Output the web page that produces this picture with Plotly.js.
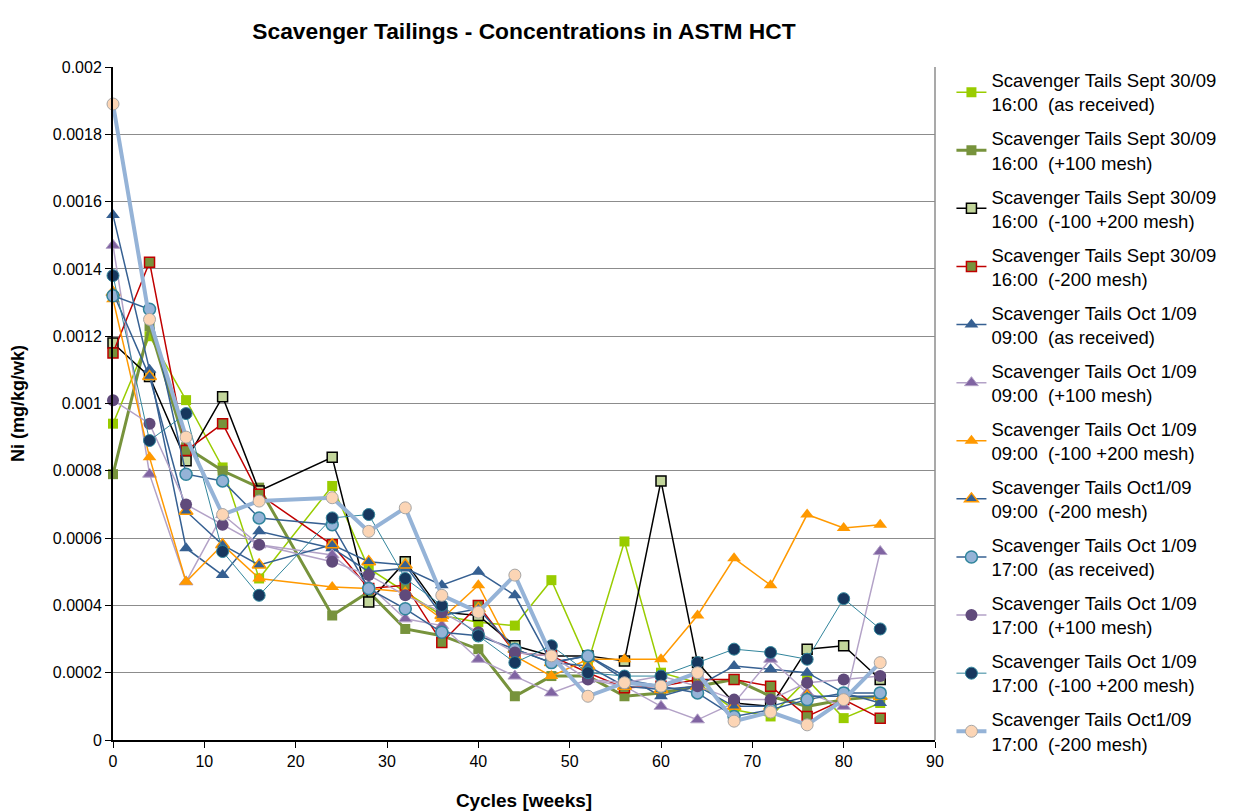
<!DOCTYPE html>
<html>
<head>
<meta charset="utf-8">
<script src="https://cdn.plot.ly/plotly-3.0.1.min.js"></script>
<style>html,body{margin:0;padding:0;background:#fff;}#chart{width:1238px;height:811px;}</style>
</head>
<body>
<div id="chart"></div>
<script>
// Cycles (weeks)
const cycles = [0, 4, 8, 12, 16, 24, 28, 32, 36, 40, 44, 48, 52, 56, 60, 64, 68, 72, 76, 80, 84];

// Series names
const names = [
  "Scavenger Tails Sept 30/09<br>16:00\u00a0 (as received)",
  "Scavenger Tails Sept 30/09<br>16:00\u00a0 (+100 mesh)",
  "Scavenger Tails Sept 30/09<br>16:00\u00a0 (-100 +200 mesh)",
  "Scavenger Tails Sept 30/09<br>16:00\u00a0 (-200 mesh)",
  "Scavenger Tails Oct 1/09<br>09:00\u00a0 (as received)",
  "Scavenger Tails Oct 1/09<br>09:00\u00a0 (+100 mesh)",
  "Scavenger Tails Oct 1/09<br>09:00\u00a0 (-100 +200 mesh)",
  "Scavenger Tails Oct1/09<br>09:00\u00a0 (-200 mesh)",
  "Scavenger Tails Oct 1/09<br>17:00\u00a0 (as received)",
  "Scavenger Tails Oct 1/09<br>17:00\u00a0 (+100 mesh)",
  "Scavenger Tails Oct 1/09<br>17:00\u00a0 (-100 +200 mesh)",
  "Scavenger Tails Oct1/09<br>17:00\u00a0 (-200 mesh)"
];

// Ni (mg/kg/wk) values per series
const sept30_asReceived = [0.00094, 0.00120, 0.00101, 0.00081, 0.00048, 0.000755, 0.00051, 0.00044, 0.00037, 0.00035, 0.00034, 0.000475, 0.00023, 0.00059, 0.00020, 0.00017, 0.00009, 0.00007, 0.00018, 0.000065, 0.00011];
const sept30_plus100 = [0.00079, 0.00123, 0.00087, 0.00080, 0.00075, 0.00037, 0.00044, 0.00033, 0.00031, 0.00027, 0.00013, 0.00019, 0.00019, 0.00013, 0.00014, 0.00016, 0.00018, 0.00013, 0.00010, 0.00012, 0.00013];
const sept30_m100p200 = [0.00118, 0.00108, 0.00083, 0.00102, 0.00074, 0.00084, 0.00041, 0.00053, 0.00038, 0.00037, 0.00028, 0.00025, 0.00025, 0.000235, 0.00077, 0.00023, 0.00011, 0.00010, 0.00027, 0.00028, 0.00018];
const sept30_minus200 = [0.00115, 0.00142, 0.00086, 0.00094, 0.00073, 0.00058, 0.00045, 0.00046, 0.00029, 0.00040, 0.00026, 0.00025, 0.00020, 0.000155, 0.00016, 0.00018, 0.00018, 0.00016, 0.00007, 0.00012, 0.000065];
const oct1am_asReceived = [0.00156, 0.00110, 0.00057, 0.00049, 0.00062, 0.00057, 0.00050, 0.00051, 0.00046, 0.00050, 0.00043, 0.00023, 0.00025, 0.00019, 0.00013, 0.00016, 0.00022, 0.00021, 0.00020, 0.00014, 0.00011];
const oct1am_plus100 = [0.00147, 0.00079, 0.00047, 0.00067, 0.00058, 0.00055, 0.00046, 0.00036, 0.00034, 0.00024, 0.00019, 0.00014, 0.00018, 0.00016, 0.00010, 0.00006, 0.00011, 0.00024, 0.00014, 0.00010, 0.00056];
const oct1am_m100p200 = [0.00131, 0.00084, 0.00047, 0.00058, 0.00048, 0.000455, 0.00045, 0.00044, 0.00036, 0.00046, 0.00025, 0.00019, 0.00024, 0.00024, 0.00024, 0.00037, 0.00054, 0.00046, 0.00067, 0.00063, 0.00064];
const oct1am_minus200 = [0.00133, 0.00108, 0.00068, 0.00058, 0.00052, 0.00058, 0.00053, 0.00052, 0.00037, 0.00039, 0.00027, 0.00023, 0.00022, 0.00016, 0.00015, 0.00016, 0.00010, 0.00010, 0.00013, 0.00013, 0.00013];
const oct1pm_asReceived = [0.00132, 0.00128, 0.00079, 0.00077, 0.00066, 0.00064, 0.00045, 0.00039, 0.00032, 0.00031, 0.00027, 0.00023, 0.00025, 0.00018, 0.00016, 0.00014, 0.00007, 0.00009, 0.00012, 0.00014, 0.00014];
const oct1pm_plus100 = [0.00101, 0.00094, 0.00070, 0.00064, 0.00058, 0.00053, 0.00049, 0.00043, 0.00038, 0.00032, 0.00026, 0.00025, 0.00018, 0.00017, 0.00019, 0.00016, 0.00012, 0.00012, 0.00017, 0.00018, 0.00019];
const oct1pm_m100p200 = [0.00138, 0.00089, 0.00097, 0.00056, 0.00043, 0.00066, 0.00067, 0.00048, 0.00040, 0.00031, 0.00023, 0.00028, 0.00020, 0.00019, 0.00019, 0.00023, 0.00027, 0.00026, 0.00024, 0.00042, 0.00033];
const oct1pm_minus200 = [0.00189, 0.00125, 0.00090, 0.00067, 0.00071, 0.00072, 0.00062, 0.00069, 0.00043, 0.00038, 0.00049, 0.00025, 0.00013, 0.00017, 0.00016, 0.00020, 0.000056, 0.000083, 0.000045, 0.00012, 0.00023];

const seriesData = [sept30_asReceived, sept30_plus100, sept30_m100p200, sept30_minus200,
  oct1am_asReceived, oct1am_plus100, oct1am_m100p200, oct1am_minus200,
  oct1pm_asReceived, oct1pm_plus100, oct1pm_m100p200, oct1pm_minus200];

const styles = [
  {lc: "#99CC00", lw: 1.5, sym: "square", ms: 10, fill: "#99CC00", bc: "#99CC00", bw: 0},
  {lc: "#77933C", lw: 3, sym: "square", ms: 10, fill: "#77933C", bc: "#77933C", bw: 0},
  {lc: "#000000", lw: 1.5, sym: "square", ms: 10, fill: "#C3D69B", bc: "#000000", bw: 1.5},
  {lc: "#C00000", lw: 1.5, sym: "square", ms: 10, fill: "#77933C", bc: "#C00000", bw: 1.5},
  {lc: "#366092", lw: 1.5, sym: "triangle-up", ms: 12, fill: "#366092", bc: "#366092", bw: 0},
  {lc: "#B3A2C7", lw: 1.5, sym: "triangle-up", ms: 12, fill: "#8064A2", bc: "#B3A2C7", bw: 1},
  {lc: "#FF9900", lw: 1.5, sym: "triangle-up", ms: 12, fill: "#FF9900", bc: "#FF9900", bw: 0},
  {lc: "#366092", lw: 1.5, sym: "triangle-up", ms: 12, fill: "#366092", bc: "#FF9900", bw: 1.5},
  {lc: "#366092", lw: 1.5, sym: "circle", ms: 12, fill: "#95B3D7", bc: "#31859C", bw: 1.5},
  {lc: "#B3A2C7", lw: 1.5, sym: "circle", ms: 12, fill: "#604A7B", bc: "#604A7B", bw: 0},
  {lc: "#31859C", lw: 1, sym: "circle", ms: 12, fill: "#17375E", bc: "#31859C", bw: 1},
  {lc: "#95B3D7", lw: 4, sym: "circle", ms: 12, fill: "#FCD5B5", bc: "#A6A6A6", bw: 1}
];

const traces = seriesData.map((vals, i) => ({
  type: "scatter",
  mode: "lines+markers",
  x: cycles,
  y: vals,
  name: names[i],
  legendgroup: "g" + i,
  line: {color: styles[i].lc, width: styles[i].lw},
  marker: {symbol: styles[i].sym, size: styles[i].ms, color: styles[i].fill,
           line: {color: styles[i].bc, width: styles[i].bw}},
  cliponaxis: false
}));

const font = "Liberation Sans, Arial, sans-serif";

const layout = {
  width: 1238,
  height: 811,
  paper_bgcolor: "#ffffff",
  plot_bgcolor: "#ffffff",
  margin: {l: 113, r: 303, t: 67, b: 71},
  font: {family: font, color: "#000000", size: 16},
  title: {
    text: "<b>Scavenger Tailings - Concentrations in ASTM HCT</b>",
    font: {family: font, size: 22.8, color: "#000000"},
    x: 0.5, xref: "paper", xanchor: "center",
    y: 0.962, yref: "container", yanchor: "middle"
  },
  xaxis: {
    range: [0, 90],
    dtick: 10,
    tick0: 0,
    showgrid: false,
    zeroline: false,
    showline: true,
    linecolor: "#000000",
    linewidth: 2,
    ticks: "outside",
    ticklen: 6,
    tickcolor: "#000000",
    tickfont: {family: font, size: 16},
    title: {text: "<b>Cycles [weeks]</b>", font: {family: font, size: 19}, standoff: 24}
  },
  yaxis: {
    range: [0, 0.002],
    dtick: 0.0002,
    tick0: 0,
    tickformat: ".4~f",
    showgrid: true,
    gridcolor: "#8C8C8C",
    gridwidth: 1,
    zeroline: false,
    showline: true,
    linecolor: "#000000",
    linewidth: 2,
    ticks: "outside",
    ticklen: 6,
    tickcolor: "#000000",
    tickfont: {family: font, size: 16},
    title: {text: "<b>Ni (mg/kg/wk)</b>", font: {family: font, size: 18}, standoff: 24}
  },
  shapes: [
    {type: "line", xref: "paper", yref: "paper", x0: 1, x1: 1, y0: 0, y1: 1,
     line: {color: "#8C8C8C", width: 1.5}}
  ],
  legend: {
    x: 1.02, xanchor: "left",
    y: 1.008, yanchor: "top",
    font: {family: font, size: 18.5, color: "#000000"},
    tracegroupgap: 7,
    maxheight: 800,
    bgcolor: "rgba(0,0,0,0)",
    itemwidth: 30
  },
  showlegend: true
};

Plotly.newPlot("chart", traces, layout, {displayModeBar: false, staticPlot: true});
</script>
</body>
</html>
